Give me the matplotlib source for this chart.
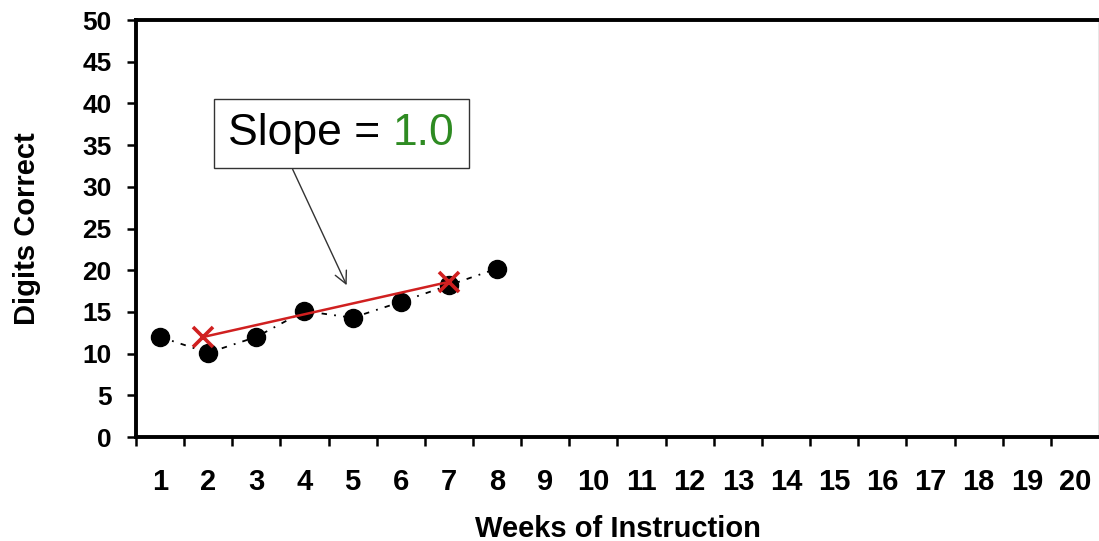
import matplotlib.pyplot as plt
from matplotlib.offsetbox import TextArea, HPacker, AnnotationBbox

# data
weeks = [1, 2, 3, 4, 5, 6, 7, 8]
digits = [12.0, 10.1, 12.0, 15.1, 14.3, 16.2, 18.2, 20.2]
trend_x = [1.9, 7.0]
trend_y = [12.0, 18.6]
week_labels = [str(w) for w in range(1, 21)]
slope_text = "1.0"

plt.rcParams['font.family'] = ['Liberation Sans', 'DejaVu Sans']

fig = plt.figure(figsize=(10.99, 5.41), dpi=100)
ax = fig.add_axes([0.1237, 0.1922, 0.8763, 0.7708])

ax.plot(weeks, digits, color='black', lw=1.3, linestyle=(0, (3, 4, 1, 4)),
        marker='o', markersize=13, zorder=3)
ax.plot(trend_x, trend_y, color='#d02020', lw=1.8, marker='x',
        markersize=14, mew=2.6, zorder=4)

ax.set_xlim(0.5, 20.5)
ax.set_ylim(0, 50)
ax.set_yticks(range(0, 51, 5))
ax.set_xticks(range(1, 21))
ax.set_xticklabels(week_labels)
ax.set_xticks([w + 0.5 for w in range(0, 20)], minor=True)
ax.tick_params(axis='x', which='major', length=0, pad=22)
ax.tick_params(axis='x', which='minor', length=6.5, width=1.8, direction='out')
ax.tick_params(axis='y', length=6.5, width=1.8, direction='out', pad=11)
for lab in ax.get_xticklabels():
    lab.set_fontsize(21)
    lab.set_fontweight('bold')
for lab in ax.get_yticklabels():
    lab.set_fontsize(19)
    lab.set_fontweight('bold')

for side in ['left', 'bottom', 'top']:
    ax.spines[side].set_linewidth(2.8)
ax.spines['right'].set_linewidth(1.0)
ax.spines['right'].set_color('#888888')

ax.set_ylabel("Digits Correct", fontsize=21, fontweight='bold', labelpad=30)
ax.set_xlabel("Weeks of Instruction", fontsize=21, fontweight='bold', labelpad=14)

# slope callout box
t1 = TextArea("Slope = ", textprops=dict(fontsize=32, color='black'))
t2 = TextArea(slope_text, textprops=dict(fontsize=32, color='#2e8b22'))
box = HPacker(children=[t1, t2], align='baseline', pad=10, sep=0)
ab = AnnotationBbox(box, (4.77, 36.4), xycoords='data', frameon=True,
                    pad=0, bboxprops=dict(edgecolor='#333333', lw=1.0))
ax.add_artist(ab)
ax.annotate("", xy=(4.9, 17.9), xytext=(3.73, 32.4),
            arrowprops=dict(arrowstyle='->', color='#333333', lw=1.0,
                            mutation_scale=22))

fig.savefig("out.png", dpi=100)
